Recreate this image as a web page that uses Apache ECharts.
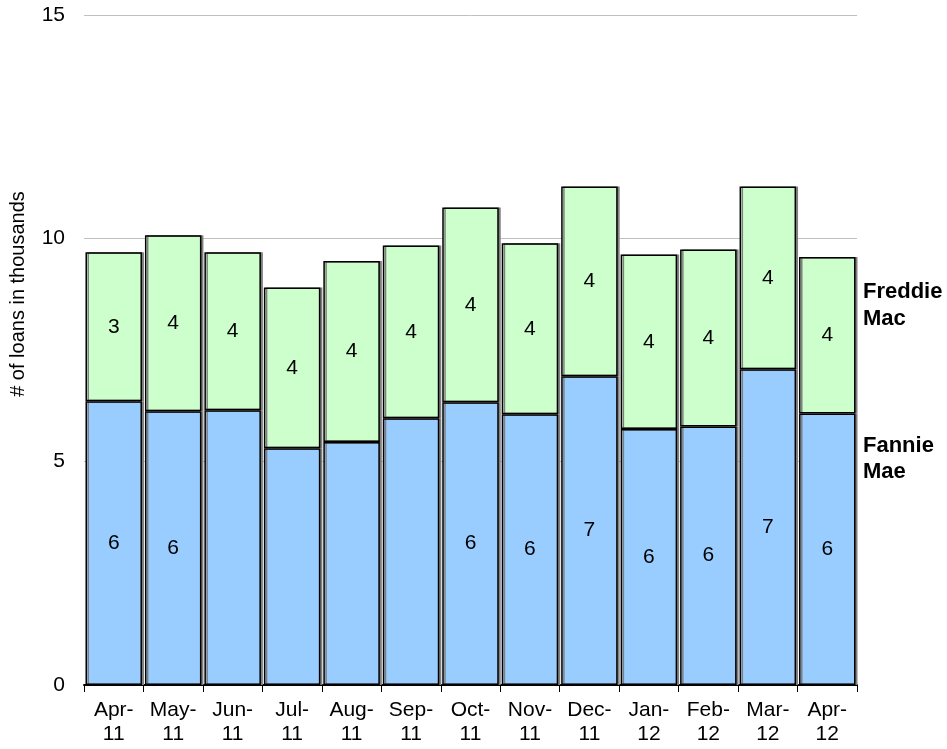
<!DOCTYPE html>
<html><head><meta charset="utf-8">
<script src="https://cdn.jsdelivr.net/npm/echarts@6/dist/echarts.min.js"></script>
<style>html,body{margin:0;padding:0;background:#fff}#c{width:947px;height:749px}</style>
</head><body><div id="c"></div>
<script>
var categories = ['Apr-\n11','May-\n11','Jun-\n11','Jul-\n11','Aug-\n11','Sep-\n11','Oct-\n11','Nov-\n11','Dec-\n11','Jan-\n12','Feb-\n12','Mar-\n12','Apr-\n12'];
var fannie = [6.35,6.13,6.15,5.30,5.44,5.97,6.33,6.06,6.91,5.73,5.79,7.07,6.08];
var freddie = [3.34,3.94,3.54,3.60,4.05,3.87,4.36,3.83,4.25,3.91,3.96,4.09,3.50];
var fannieLabelShown = [true,true,false,false,false,false,true,true,true,true,true,true,true];
var yTicks = [0,5,10,15];
var yTitle = '# of loans in thousands';

var font = 'Liberation Sans, Arial, sans-serif';
var chart = echarts.init(document.getElementById('c'));
function mk(vals, shown){
  return vals.map(function(v,i){
    return {value:v, label:{show: shown ? shown[i] : true}};
  });
}
var barStyle = function(color){
  return {color:color, borderColor:'#000', borderWidth:1.5,
    shadowColor:'#808080', shadowOffsetX:2, shadowOffsetY:0, shadowBlur:0};
};
var lbl = {show:true, position:'inside', color:'#000', fontSize:21, fontFamily:font,
  formatter:function(p){return Math.round(p.value);}};
chart.setOption({
  animation:false,
  grid:{left:84, right:90, top:15, bottom:64, outerBoundsMode:'none', containLabel:false},
  xAxis:{type:'category', data:categories,
    axisLine:{lineStyle:{color:'#000', width:2}},
    axisTick:{show:true, alignWithLabel:false, length:7, lineStyle:{color:'#000', width:1}},
    axisLabel:{color:'#000', fontSize:21, fontFamily:font, lineHeight:24, margin:13, interval:0}
  },
  yAxis:{type:'value', min:yTicks[0], max:yTicks[yTicks.length-1], interval:5,
    axisLine:{show:false}, axisTick:{show:false},
    axisLabel:{color:'#000', fontSize:21, fontFamily:font, margin:19},
    splitLine:{lineStyle:{color:'#c0c0c0', width:1}}
  },
  series:[
    {name:'Fannie Mae', type:'bar', stack:'a', data:mk(fannie, fannieLabelShown), barWidth:'95%',
      itemStyle:barStyle('#99ccff'), label:lbl},
    {name:'Freddie Mac', type:'bar', stack:'a', data:mk(freddie), barWidth:'95%',
      itemStyle:barStyle('#ccffcc'), label:lbl}
  ],
  graphic:[
    {type:'text', x:18, y:294, rotation:Math.PI/2,
      style:{text:yTitle, font:'20px '+font, fill:'#000', align:'center', verticalAlign:'middle'}},
    {type:'text', left:863, top:278, style:{text:'Freddie\nMac', font:'bold 22px '+font, fill:'#000', lineHeight:27}},
    {type:'text', left:863, top:433, style:{text:'Fannie\nMae', font:'bold 22px '+font, fill:'#000', lineHeight:26}}
  ]
});
</script></body></html>
